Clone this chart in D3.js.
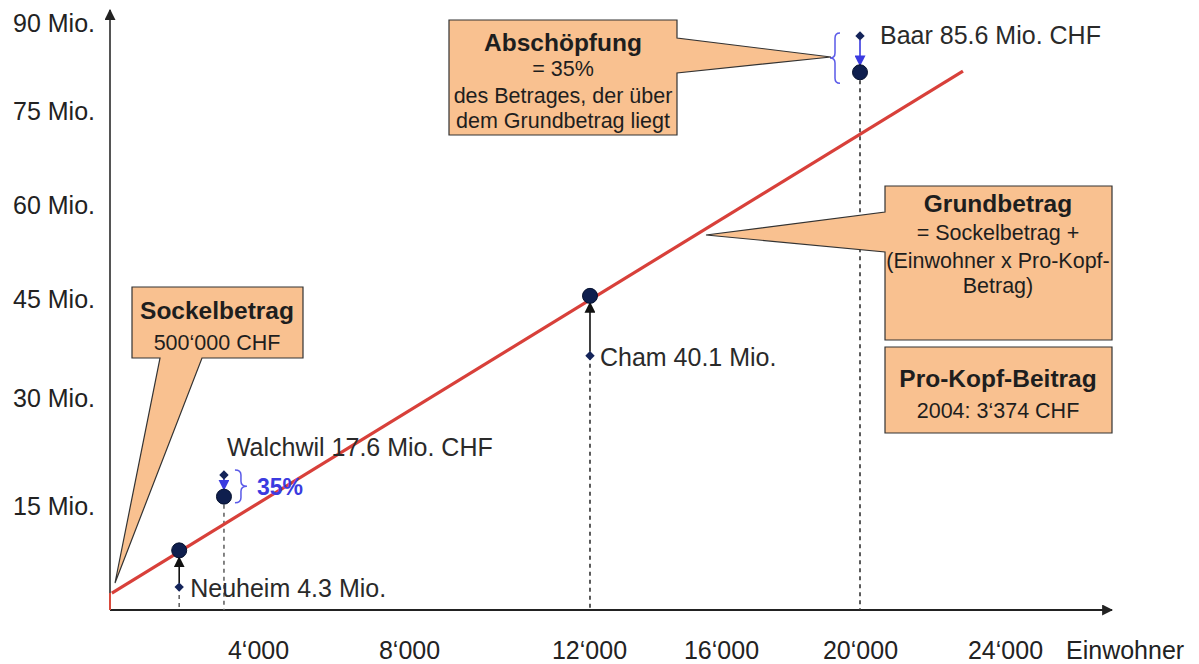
<!DOCTYPE html>
<html><head><meta charset="utf-8">
<script src="https://cdn.jsdelivr.net/npm/d3@7"></script>
<style>
html,body{margin:0;padding:0;background:#fff;}
svg{display:block;font-family:"Liberation Sans",Arial,Helvetica,sans-serif;}
</style></head>
<body><svg id="c" width="1199" height="664"></svg>
<script>
// ---- data (in axis units) ----
const towns = ["Neuheim", "Walchwil", "Cham", "Baar"];
const population = [1870, 3080, 12030, 20000];
const grundbetrag = [8.6, 16.3, 45.5, 81.6];   // circles (Mio.)
const effektiv = [3.3, 19.3, 36.4, 87.8];      // diamonds (Mio.)
const townLabels = ["Neuheim 4.3 Mio.", "Walchwil 17.6 Mio. CHF", "Cham 40.1 Mio.", "Baar 85.6 Mio. CHF"];
const lineX = [50, 22840];
const lineY = [2.45, 81.8];
const xTicks = [4000, 8000, 12000, 16000, 20000, 24000];
const xTickLabels = ["4\u2018000", "8\u2018000", "12\u2018000", "16\u2018000", "20\u2018000", "24\u2018000"];
const yTicks = [15, 30, 45, 60, 75, 90];
const yTickLabels = ["15 Mio.", "30 Mio.", "45 Mio.", "60 Mio.", "75 Mio.", "90 Mio."];

// ---- scales (the original drawing is schematic: uneven spacing) ----
const x = d3.scaleLinear().domain([0, 4000, 8000, 12000, 16000, 20000, 24000])
  .range([110, 258, 409, 589, 721, 860, 1005]);
const y = d3.scaleLinear().domain([0, 15, 30, 45, 60, 75, 90])
  .range([610, 506, 398, 299, 205, 111, 23]);

const svg = d3.select("#c");
const defs = svg.append("defs");
function marker(id, color) {
  defs.append("marker").attr("id", id).attr("viewBox", "0 0 10 10")
    .attr("refX", 9).attr("refY", 5).attr("markerWidth", 11).attr("markerHeight", 11)
    .attr("markerUnits", "userSpaceOnUse").attr("orient", "auto")
    .append("path").attr("d", "M0,0L10,5L0,10Z").attr("fill", color);
}
marker("ak", "#111");
marker("ab", "#3a3ae0");
marker("axa", "#222");

const peach = "#f9c190", boxStroke = "#333", txt = "#222";
const font = "Liberation Sans, Arial, sans-serif";

// ---- axes ----
const axisY0 = y(0), axisX0 = x(0);
svg.append("line").attr("x1", axisX0).attr("y1", axisY0).attr("x2", 1112).attr("y2", axisY0)
  .attr("stroke", "#222").attr("stroke-width", 2).attr("marker-end", "url(#axa)");
svg.append("line").attr("x1", axisX0).attr("y1", axisY0).attr("x2", axisX0).attr("y2", 10)
  .attr("stroke", "#555").attr("stroke-width", 2).attr("marker-end", "url(#axa)");
svg.append("line").attr("x1", axisX0).attr("y1", axisY0).attr("x2", axisX0).attr("y2", y(lineY[0]))
  .attr("stroke", "#d84a3c").attr("stroke-width", 2);

const xAxis = svg.append("g").attr("transform", `translate(0,${axisY0})`)
  .call(d3.axisBottom(x).tickValues(xTicks).tickSize(0).tickFormat((d, i) => xTickLabels[i]));
xAxis.select(".domain").remove();
xAxis.selectAll("text").attr("font-size", 25).attr("font-family", font).attr("fill", txt)
  .attr("y", 40).attr("dy", "0.35em");
svg.append("text").attr("x", 1066).attr("y", 650).attr("dy", "0.35em").attr("font-size", 25)
  .attr("fill", txt).text("Einwohner");

const yAxis = svg.append("g").attr("transform", `translate(${axisX0},0)`)
  .call(d3.axisLeft(y).tickValues(yTicks).tickSize(0).tickFormat((d, i) => yTickLabels[i]));
yAxis.select(".domain").remove();
yAxis.selectAll("text").attr("font-size", 25).attr("font-family", font).attr("fill", txt)
  .attr("x", -15).attr("dy", "0.35em");

// ---- dashed drop lines ----
towns.forEach((t, i) => {
  const yl = Math.max(y(grundbetrag[i]), y(effektiv[i]));
  svg.append("line").attr("x1", x(population[i])).attr("x2", x(population[i]))
    .attr("y1", yl).attr("y2", axisY0).attr("stroke", i < 2 ? "#666" : "#333")
    .attr("stroke-width", 1.6).attr("stroke-dasharray", "4,4");
});

// ---- Grundbetrag line ----
svg.append("line").attr("x1", x(lineX[0])).attr("y1", y(lineY[0]))
  .attr("x2", x(lineX[1])).attr("y2", y(lineY[1]))
  .attr("stroke", "#d8403a").attr("stroke-width", 3.2);

// ---- arrows between actual and Grundbetrag ----
towns.forEach((t, i) => {
  const px = x(population[i]);
  const yd = y(effektiv[i]), yc = y(grundbetrag[i]);
  const up = yc < yd;
  const s = up ? -1 : 1;
  svg.append("line").attr("x1", px).attr("x2", px)
    .attr("y1", yd + s * 4).attr("y2", yc - s * 7)
    .attr("stroke", up ? "#111" : "#3a3ae0").attr("stroke-width", 1.6)
    .attr("marker-end", up ? "url(#ak)" : "url(#ab)");
});

// ---- circles and diamonds ----
svg.selectAll("circle.g").data(towns).join("circle").attr("class", "g")
  .attr("cx", (d, i) => x(population[i])).attr("cy", (d, i) => y(grundbetrag[i]))
  .attr("r", 7.5).attr("fill", "#0f1f4e").attr("stroke", "#06112e").attr("stroke-width", 1);
svg.selectAll("path.d").data(towns).join("path").attr("class", "d")
  .attr("d", d3.symbol(d3.symbolSquare, 44))
  .attr("transform", (d, i) => `translate(${x(population[i])},${y(effektiv[i])}) rotate(45)`)
  .attr("fill", "#14245a");

// ---- town labels ----
const labOff = [[11, 1], [3, -28], [10, 1], [20, -1]];
svg.selectAll("text.t").data(towns).join("text").attr("class", "t")
  .attr("x", (d, i) => x(population[i]) + labOff[i][0])
  .attr("y", (d, i) => y(effektiv[i]) + labOff[i][1])
  .attr("dy", "0.35em").attr("font-size", 25).attr("fill", "#2a2a2a")
  .text((d, i) => townLabels[i]);

// ---- blue braces ----
function brace(x0, y0, y1, w, dir) {
  const xm = x0 + dir * w / 2, xt = x0 + dir * w, ym = (y0 + y1) / 2, r = 5;
  return `M${x0},${y0} Q${xm},${y0} ${xm},${y0 + r} L${xm},${ym - r} Q${xm},${ym} ${xt},${ym}` +
    ` Q${xm},${ym} ${xm},${ym + r} L${xm},${y1 - r} Q${xm},${y1} ${x0},${y1}`;
}
const wx = x(population[1]), bx = x(population[3]);
svg.append("path").attr("d", brace(wx + 11, y(effektiv[1]) - 5, y(grundbetrag[1]) + 6, 12, 1))
  .attr("fill", "none").attr("stroke", "#5a5ae8").attr("stroke-width", 1.5);
svg.append("text").attr("x", wx + 33).attr("y", (y(effektiv[1]) + y(grundbetrag[1])) / 2 + 1)
  .attr("dy", "0.35em").attr("font-size", 23).attr("font-weight", "bold").attr("fill", "#3b3be0").text("35%");
svg.append("path").attr("d", brace(bx - 20, y(effektiv[3]) - 3, y(grundbetrag[3]) + 11, 10, -1))
  .attr("fill", "none").attr("stroke", "#5a5ae8").attr("stroke-width", 1.5);

// ---- callouts ----
function callout(path, lines, cx, y0, spacing) {
  svg.append("path").attr("d", path).attr("fill", peach).attr("stroke", boxStroke).attr("stroke-width", 1.2);
  lines.forEach((l, i) => {
    svg.append("text").attr("x", cx).attr("y", y0 + (i === 0 ? 0 : spacing[i - 1]))
      .attr("dy", "0.35em").attr("text-anchor", "middle")
      .attr("font-size", i === 0 ? 24.5 : 21.5).attr("font-weight", i === 0 ? "bold" : "normal")
      .attr("fill", "#1e1e1e").text(l);
  });
}
callout("M449,20H677V38L831,57L677,73V135H449Z",
  ["Absch\u00f6pfung", "= 35%", "des Betrages, der \u00fcber", "dem Grundbetrag liegt"], 563, 42, [26, 53, 78]);
callout("M885,186H1112V340H885V252L706,235L885,212Z",
  ["Grundbetrag", "= Sockelbetrag +", "(Einwohner x Pro-Kopf-", "Betrag)"], 998, 203, [29, 57, 82]);
callout("M132,287H303V358H202L115,583L160,358H132Z",
  ["Sockelbetrag", "500\u2018000 CHF"], 217, 310, [32]);
callout("M885,347H1112V433H885Z",
  ["Pro-Kopf-Beitrag", "2004: 3\u2018374 CHF"], 998, 378, [32]);
</script></body></html>
